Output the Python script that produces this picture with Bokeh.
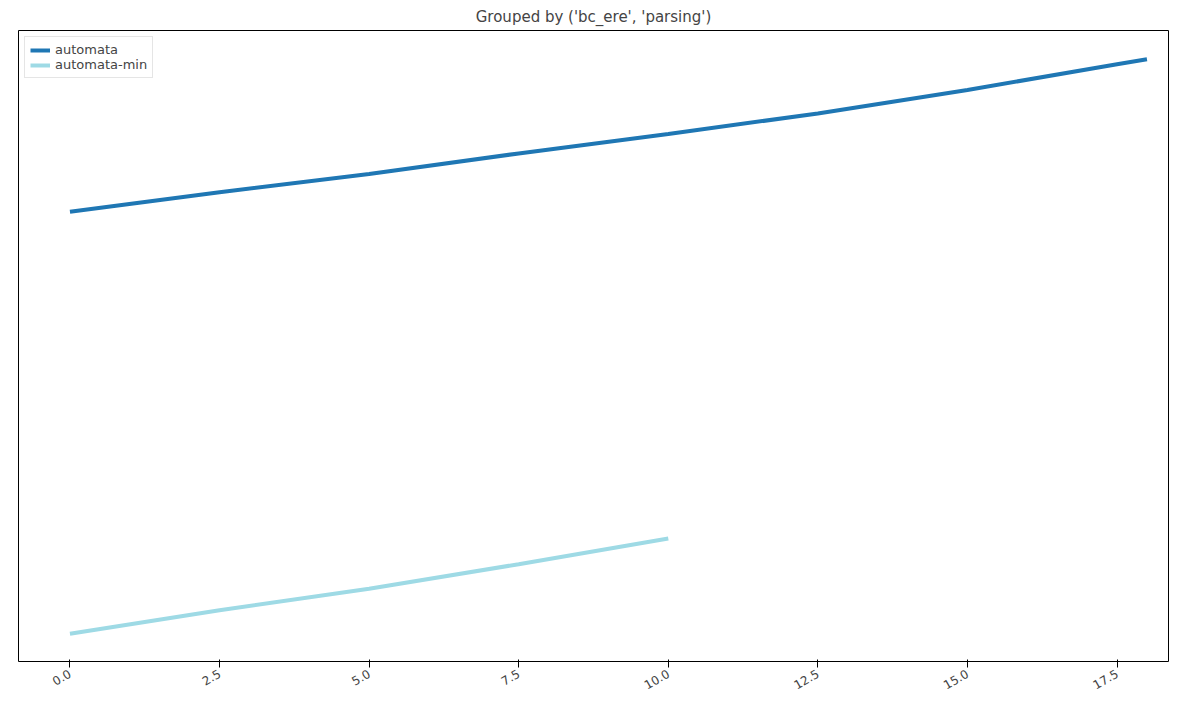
from bokeh.plotting import figure
from bokeh.models import FixedTicker, PrintfTickFormatter, Range1d
from bokeh.embed import file_html
from bokeh.resources import INLINE

# values (y has no scale in the reference)
automata_x = [0, 2.5, 5, 7.5, 10, 12.5, 15, 17.5, 18]
automata_y = [439, 458, 476, 496, 515, 535, 558, 583, 588]
automata_min_x = [0, 2.5, 5, 7.5, 10]
automata_min_y = [27, 50, 71, 95, 120]
x_ticks = [0, 2.5, 5, 7.5, 10, 12.5, 15, 17.5]

p = figure(width=1186, height=696, output_backend="svg", toolbar_location=None,
           title="Grouped by ('bc_ere', 'parsing')",
           x_range=Range1d(-0.86, 18.36), y_range=Range1d(0, 616))
p.title.align = "center"
p.title.text_font = "DejaVu Sans"
p.title.text_font_style = "normal"
p.title.text_font_size = "15px"

p.line(automata_x, automata_y, line_width=4, color="#1f77b4", legend_label="automata")
p.line(automata_min_x, automata_min_y, line_width=4, color="#9edae5", legend_label="automata-min")

p.xgrid.visible = False
p.ygrid.visible = False
p.yaxis.visible = False
p.xaxis.ticker = FixedTicker(ticks=x_ticks)
p.xaxis.formatter = PrintfTickFormatter(format="%.1f")
p.xaxis.major_label_orientation = 0.52
p.xaxis.minor_tick_line_color = None
p.xaxis.axis_line_color = None
p.xaxis.major_label_text_font = "DejaVu Sans"
p.xaxis.major_label_text_font_size = "12px"
p.outline_line_color = "black"
p.outline_line_alpha = 1

p.legend.location = "top_left"
p.legend.label_text_font = "DejaVu Sans"
p.legend.label_text_font_size = "13px"
p.legend.glyph_height = 14
p.legend.spacing = 0
p.legend.padding = 5
p.legend.margin = 6
p.legend.border_line_color = "#cccccc"

p.min_border_left = 18
p.min_border_right = 18

open("out.html", "w").write(file_html(p, INLINE))
